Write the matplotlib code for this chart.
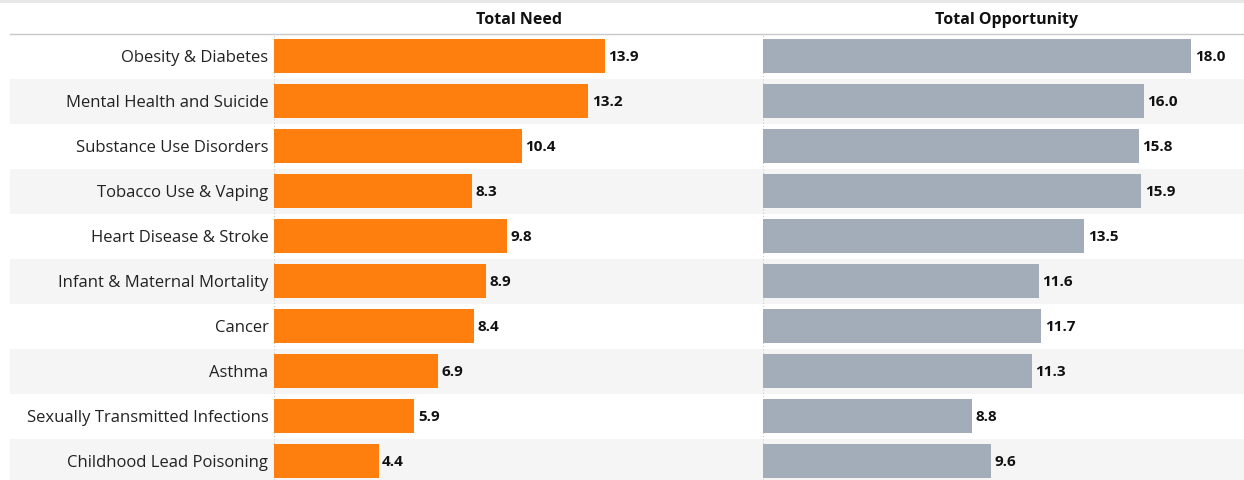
import numpy as np
import matplotlib.pyplot as plt

# --- data ---
categories = ["Obesity & Diabetes", "Mental Health and Suicide", "Substance Use Disorders",
              "Tobacco Use & Vaping", "Heart Disease & Stroke", "Infant & Maternal Mortality",
              "Cancer", "Asthma", "Sexually Transmitted Infections", "Childhood Lead Poisoning"]
need = [13.9, 13.2, 10.4, 8.3, 9.8, 8.9, 8.4, 6.9, 5.9, 4.4]
opportunity = [18.0, 16.0, 15.8, 15.9, 13.5, 11.6, 11.7, 11.3, 8.8, 9.6]

plt.rcParams['font.family'] = ['Open Sans', 'DejaVu Sans']

W, H = 1244, 480
fig = plt.figure(figsize=(W / 100, H / 100), dpi=100)

px = 23.8            # pixels per unit
top = 33.5           # header line (px from top)
row_h = 45.0
n = len(categories)
y = np.arange(n)
ybot = (H - top) / row_h - 0.5

def fx(p):
    return p / W

ax_top = 1 - top / H

# background bands
bg = fig.add_axes([fx(10), 0, fx(W - 10), ax_top])
bg.set_xlim(0, 1)
bg.set_ylim(ybot, -0.5)
for i in y:
    if i % 2 == 1:
        bg.axhspan(i - 0.5, i + 0.5, color="#f5f5f5", lw=0)
bg.axis("off")

left0, mid, right1 = 274, 763, W
axl = fig.add_axes([fx(left0), 0, fx(mid - left0), ax_top])
axr = fig.add_axes([fx(mid), 0, fx(right1 - mid), ax_top])

for ax, vals, col, width in [(axl, need, "#ff7f0e", mid - left0),
                             (axr, opportunity, "#a3acb9", right1 - mid)]:
    ax.patch.set_alpha(0)
    ax.barh(y, vals, height=0.75, color=col)
    ax.set_xlim(0, width / px)
    ax.set_ylim(ybot, -0.5)
    for yi, v in zip(y, vals):
        ax.annotate(f"{v:.1f}", (v, yi + 0.02), xytext=(2.5, 0), textcoords="offset points",
                    va="center", ha="left", fontsize=11, fontweight="bold", color="#111111")
    for s in ax.spines.values():
        s.set_visible(False)
    ax.axvline(0, color="#c8c8c8", lw=0.8, ls=(0, (1, 2)), zorder=0)
    ax.set_xticks([])

axl.set_yticks(y)
axl.set_yticklabels(categories, fontsize=12.0, color="#222222")
axl.tick_params(axis="y", length=0, pad=4)
axr.set_yticks([])

# header
fig.text(fx((left0 + mid) / 2), 1 - 20.5 / H, "Total Need", ha="center", va="center",
         fontsize=11.5, fontweight="bold", color="#111111")
fig.text(fx((mid + right1) / 2 + 3), 1 - 20.5 / H, "Total Opportunity", ha="center", va="center",
         fontsize=11.5, fontweight="bold", color="#111111")
fig.add_artist(plt.Line2D([fx(10), 1], [ax_top, ax_top], color="#c8c8c8", lw=1))
fig.add_artist(plt.Line2D([0, 1], [1 - 1 / H, 1 - 1 / H], color="#e6e6e6", lw=2))

fig.savefig("out.png", dpi=100)
